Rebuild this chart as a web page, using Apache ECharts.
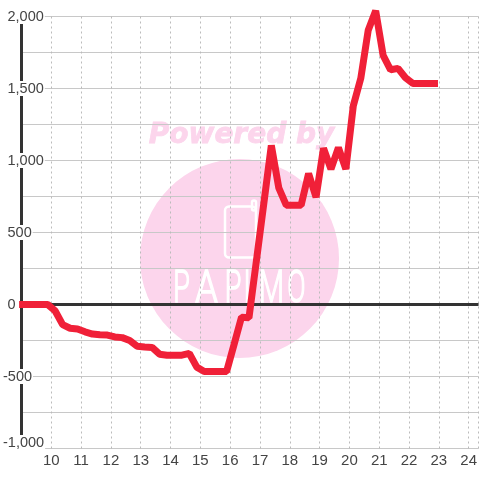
<!DOCTYPE html>
<html>
<head>
<meta charset="utf-8">
<script src="https://cdn.jsdelivr.net/npm/echarts@6/dist/echarts.min.js"></script>
<style>
html, body { margin: 0; padding: 0; background: #fff; }
#main { width: 480px; height: 480px; }
</style>
</head>
<body>
<div id="main"></div>
<script>
// hours of day, one point per quarter hour
const hours = [8.92, 9.13, 9.38, 9.63, 9.88, 10.13, 10.38, 10.63, 10.88, 11.13, 11.38, 11.63, 11.88,
  12.13, 12.38, 12.63, 12.88, 13.13, 13.38, 13.63, 13.88, 14.13, 14.38, 14.63, 14.88,
  15.13, 15.38, 15.63, 15.88, 16.13, 16.38, 16.63, 16.88, 17.13, 17.38, 17.63, 17.88,
  18.13, 18.38, 18.63, 18.88, 19.13, 19.38, 19.63, 19.88, 20.13, 20.38, 20.63, 20.88,
  21.13, 21.38, 21.63, 21.88, 22.13, 22.38, 22.63, 22.97]
const values = [0, 0, 0, 0, 0, -45, -140, -165, -170, -190, -205, -210, -212,
  -225, -230, -250, -290, -295, -298, -345, -352, -352, -352, -340, -435,
  -465, -465, -465, -465, -278, -88, -92, 305, 705, 1105, 810, 690,
  690, 690, 910, 745, 1085, 940, 1090, 940, 1380, 1570, 1905, 2040,
  1730, 1630, 1640, 1575, 1535, 1535, 1535, 1535]
const logoLetters = ['P', 'A', 'P', 'I', 'M', 'O']
const logoCenters = [181.5, 206.5, 233, 247, 271.5, 296.5]

const chart = echarts.init(document.getElementById('main'))

// watermark sits behind the grid
const watermark = [
  { type: 'circle', z: -10, shape: { cx: 239.5, cy: 258.5, r: 99.5 }, style: { fill: '#fcd5ec' } },
  {
    type: 'text', z: -10, x: 241.5, y: 136,
    style: {
      text: 'Powered by', fill: '#fcd5ec', stroke: '#fcd5ec', lineWidth: 0.8,
      align: 'center', verticalAlign: 'middle',
      font: 'italic bold 28px "DejaVu Sans"'
    }
  },
  {
    type: 'rect', z: -9,
    shape: { x: 225, y: 206.5, width: 31, height: 51, r: 4 },
    style: { fill: 'none', stroke: '#fff', lineWidth: 2.5 }
  },
  {
    type: 'rect', z: -9,
    shape: { x: 252, y: 200.5, width: 4, height: 10, r: 2 },
    style: { fill: 'none', stroke: '#fff', lineWidth: 2.5 }
  }
]
logoLetters.forEach((letter, i) => {
  watermark.push({
    type: 'text', z: -9, x: logoCenters[i], y: 291, scaleX: letter === 'A' ? 0.8 : letter === 'M' ? 0.65 : 0.6,
    style: {
      text: letter, fill: '#fff', stroke: '#fff', lineWidth: 1.5,
      align: 'center', verticalAlign: 'middle',
      font: '300 45px Roboto'
    }
  })
})

const labelFont = { color: '#444', fontSize: 14.5, fontFamily: 'Liberation Sans' }

chart.setOption({
  animation: false,
  graphic: watermark,
  grid: { left: 20.5, right: 0, top: 16.5, bottom: 31.5 },
  xAxis: {
    type: 'value',
    min: 9,
    max: 24.33,
    interval: 1,
    axisLine: { show: false },
    axisTick: { show: false },
    axisLabel: {
      showMinLabel: false,
      showMaxLabel: false,
      margin: 5,
      color: '#444',
      fontSize: 15,
      fontFamily: 'Liberation Sans'
    },
    splitLine: { show: true, lineStyle: { color: '#bbb', width: 1, type: [2, 3] } }
  },
  yAxis: {
    type: 'value',
    min: -1000,
    max: 2000,
    interval: 500,
    axisLine: { show: true, onZero: false, lineStyle: { color: '#333', width: 3 } },
    axisTick: { show: false },
    axisLabel: {
      // labels sit over the axis line, left edge fixed, minus sign hangs out
      align: 'left',
      margin: 18.5,
      ...labelFont,
      backgroundColor: '#fff',
      formatter: v => {
        const text = v.toLocaleString('en-US')
        if (v === -1000) return '{m|' + text + '}'
        return (v < 0 ? '{n|' : '{p|') + text + '}'
      },
      rich: {
        p: { ...labelFont, padding: [0, 1, 0, 4.5] },
        n: { ...labelFont, padding: [0, 1, 0, 0] },
        // lowest label is pushed up so it stays above the plot bottom
        m: { ...labelFont, padding: [0, 1, 12, 0] }
      }
    },
    splitLine: { show: true, lineStyle: { color: '#c8c8c8', width: 1 } },
    minorTick: { show: false, splitNumber: 2 },
    minorSplitLine: { show: true, lineStyle: { color: '#c8c8c8', width: 1 } }
  },
  series: [{
    type: 'line',
    data: hours.map((h, i) => [h, values[i]]),
    showSymbol: false,
    clip: false,
    z: 3,
    lineStyle: { color: '#f02038', width: 7, join: 'bevel', cap: 'butt' },
    markLine: {
      silent: true,
      symbol: 'none',
      z: 2,
      label: { show: false },
      lineStyle: { color: '#333', width: 3, type: 'solid' },
      data: [{ yAxis: 0 }]
    }
  }]
})
</script>
</body>
</html>
